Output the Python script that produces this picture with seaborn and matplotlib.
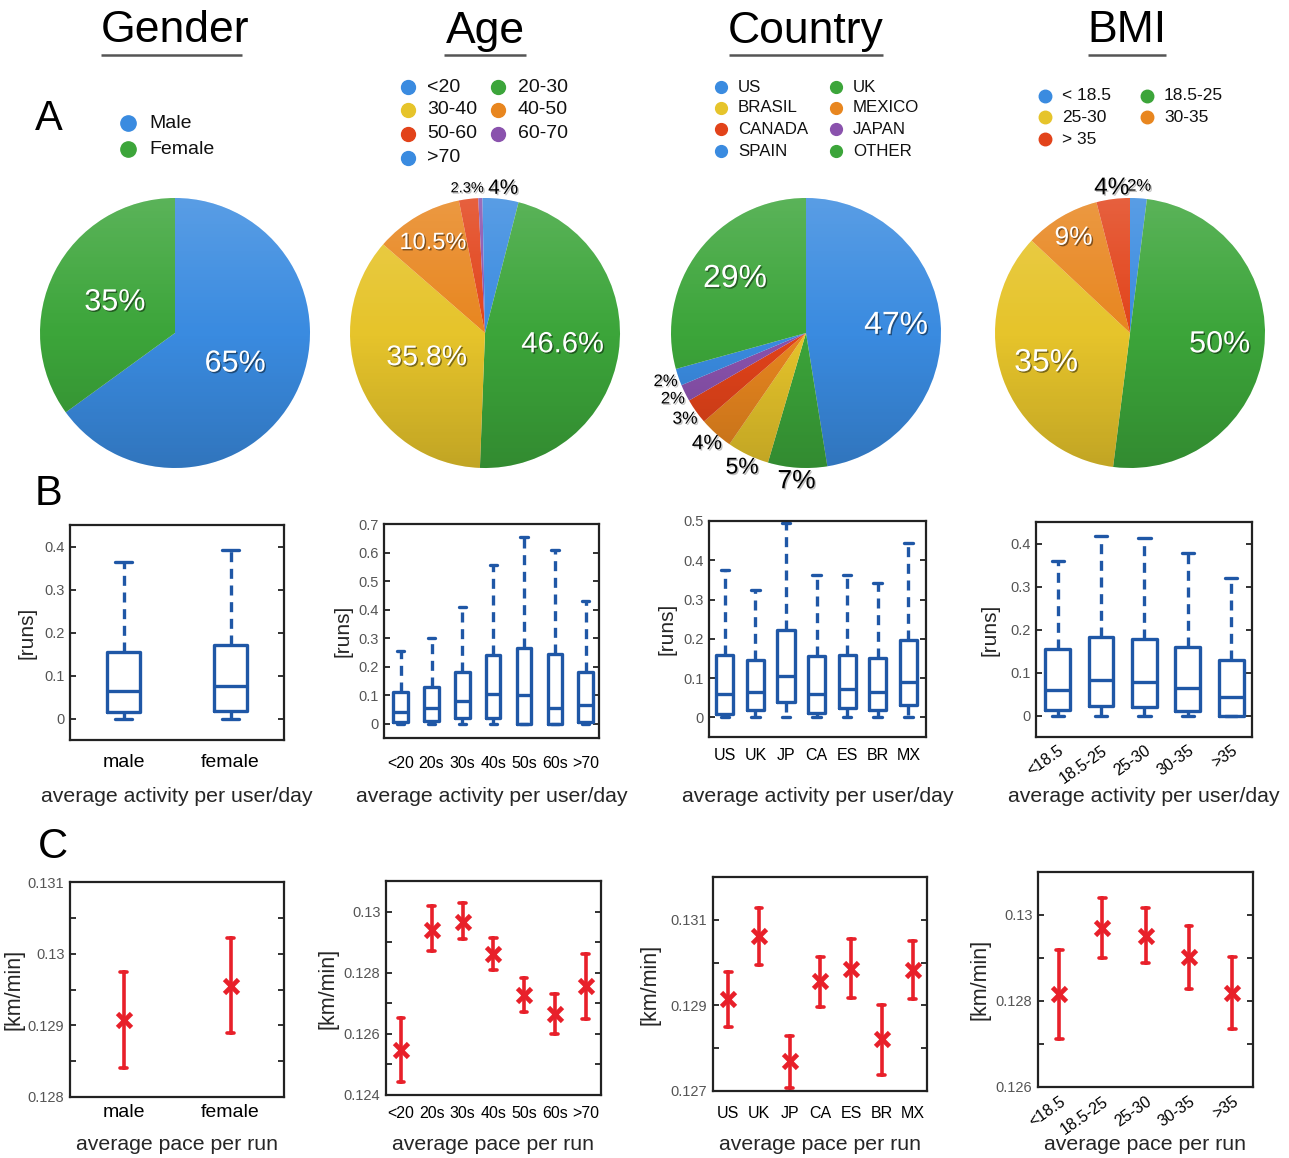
import numpy as np
import pandas as pd
import matplotlib
matplotlib.use("Agg")
import matplotlib.pyplot as plt
import matplotlib.patches as mpatches
import matplotlib.patheffects as pe
import seaborn as sns

# ---------------- data ----------------
gender_legend = ["Male", "Female"]
gender_pct = [65, 35]
age_legend = ["<20", "20-30", "30-40", "40-50", "50-60", "60-70", ">70"]
age_pct = [4, 46.6, 35.8, 10.5, 2.3, 0.5, 0.3]
country_legend = ["US", "UK", "BRASIL", "MEXICO", "CANADA", "JAPAN", "SPAIN", "OTHER"]
country_pct = [47, 7, 5, 4, 3, 2, 2, 29]
bmi_legend = ["< 18.5", "18.5-25", "25-30", "30-35", "> 35"]
bmi_pct = [2, 50, 35, 9, 4]

gender_cats = ["male", "female"]
age_cats = ["<20", "20s", "30s", "40s", "50s", "60s", ">70"]
country_cats = ["US", "UK", "JP", "CA", "ES", "BR", "MX"]
bmi_cats = ["<18.5", "18.5-25", "25-30", "30-35", ">35"]

# box plots: lower whisker, q1, median, q3, upper whisker  [runs]
gender_wlo = [0.0, 0.0]
gender_q1 = [0.015, 0.018]
gender_med = [0.065, 0.075]
gender_q3 = [0.155, 0.170]
gender_whi = [0.365, 0.393]

age_wlo = [0.0, 0.0, 0.0, 0.0, 0.0, 0.0, 0.0]
age_q1 = [0.005, 0.010, 0.020, 0.020, 0.0, 0.0, 0.005]
age_med = [0.040, 0.055, 0.080, 0.105, 0.100, 0.055, 0.065]
age_q3 = [0.110, 0.130, 0.180, 0.240, 0.265, 0.245, 0.180]
age_whi = [0.255, 0.300, 0.410, 0.555, 0.655, 0.610, 0.430]

country_wlo = [0.0, 0.0, 0.0, 0.0, 0.0, 0.0, 0.0]
country_q1 = [0.008, 0.018, 0.038, 0.010, 0.025, 0.018, 0.032]
country_med = [0.060, 0.065, 0.105, 0.060, 0.072, 0.065, 0.090]
country_q3 = [0.158, 0.145, 0.222, 0.155, 0.160, 0.152, 0.198]
country_whi = [0.375, 0.325, 0.495, 0.362, 0.362, 0.343, 0.443]

bmi_wlo = [0.0, 0.0, 0.0, 0.0, 0.0]
bmi_q1 = [0.012, 0.022, 0.020, 0.010, 0.0]
bmi_med = [0.060, 0.082, 0.078, 0.063, 0.043]
bmi_q3 = [0.155, 0.183, 0.178, 0.160, 0.128]
bmi_whi = [0.360, 0.418, 0.412, 0.378, 0.320]

# pace per run: mean and error-bar ends [km/min]
gender_pace = [0.12907, 0.12955]
gender_pace_lo = [0.12840, 0.12890]
gender_pace_hi = [0.12974, 0.13022]

age_pace = [0.12547, 0.12941, 0.12967, 0.12860, 0.12728, 0.12666, 0.12757]
age_pace_lo = [0.12441, 0.12870, 0.12911, 0.12810, 0.12671, 0.12601, 0.12650]
age_pace_hi = [0.12653, 0.13017, 0.13028, 0.12913, 0.12784, 0.12732, 0.12862]

country_pace = [0.12915, 0.13062, 0.12770, 0.12956, 0.12986, 0.12821, 0.12982]
country_pace_lo = [0.12849, 0.12994, 0.12708, 0.12896, 0.12917, 0.12737, 0.12915]
country_pace_hi = [0.12977, 0.13128, 0.12829, 0.13013, 0.13054, 0.12902, 0.13051]

bmi_pace = [0.12816, 0.12969, 0.12952, 0.12902, 0.12818]
bmi_pace_lo = [0.12711, 0.12899, 0.12888, 0.12829, 0.12734]
bmi_pace_hi = [0.12919, 0.13039, 0.13017, 0.12975, 0.12902]

# ---------------- style ----------------
sns.set_theme(style="white")
plt.rcParams["font.family"] = ["Liberation Sans", "DejaVu Sans"]

W, H = 1289, 1158
fig = plt.figure(figsize=(W / 100, H / 100), dpi=100)

BLUE = "#3a8be0"
GREEN = "#3ca53a"
YELLOW = "#e6c42b"
ORANGE = "#e8861f"
RED = "#e2431a"
PURPLE = "#8a52ad"
BOX = "#1f57a6"
ERR = "#e8202a"


def px_rect(left, top, right, bottom):
    return [left / W, 1 - bottom / H, (right - left) / W, (bottom - top) / H]


def pie_panel(cx, cy, r, values, colors, label_r, label_fs, label_col):
    ax = fig.add_axes(px_rect(cx - r, cy - r, cx + r, cy + r))
    wedges, _ = ax.pie(values, colors=colors, startangle=90, counterclock=False,
                       radius=1, wedgeprops=dict(linewidth=0))
    ax.set_xlim(-1, 1)
    ax.set_ylim(-1, 1)
    # soft top-light / bottom-dark shading
    g = np.linspace(1, -1, 256)[:, None]
    img = np.zeros((256, 1, 4))
    img[..., :3] = np.where(g > 0, 1.0, 0.0)[..., None] * np.ones(3)
    img[..., 3] = np.abs(g) * 0.16
    im = ax.imshow(img, extent=(-1, 1, -1, 1), aspect="auto", zorder=3)
    im.set_clip_path(mpatches.Circle((0, 0), 1, transform=ax.transData))
    for w, v, lr, fs, c in zip(wedges, values, label_r, label_fs, label_col):
        if lr is None:
            continue
        ang = np.deg2rad((w.theta1 + w.theta2) / 2)
        shadow = "#000000" if c == "white" else "#777777"
        ax.text(lr * np.cos(ang), lr * np.sin(ang), f"{v:g}%", ha="center", va="center",
                fontsize=fs, color=c, zorder=5,
                path_effects=[pe.withSimplePatchShadow(offset=(1, -1), shadow_rgbFace=shadow, alpha=0.45)])
    return ax


def style_axes(ax, ylim, major, minor, xfs, xpad, rot=0):
    ax.set_ylim(*ylim)
    ax.set_yticks(major)
    ax.set_yticklabels([f"{t:g}" for t in major])
    ax.set_yticks(minor, minor=True)
    ax.tick_params(axis="y", which="both", direction="in", left=True, right=True,
                   length=4, width=1.3, color="#222222", labelcolor="#555555",
                   labelsize=10.5, pad=4)
    ax.tick_params(axis="x", which="both", length=0, labelsize=xfs, labelcolor="black", pad=xpad)
    if rot:
        for lab in ax.get_xticklabels():
            lab.set_rotation(rot)
            lab.set_ha("right")
            lab.set_rotation_mode("anchor")
    for s in ax.spines.values():
        s.set_visible(True)
        s.set_color("#222222")
        s.set_linewidth(1.6)
    ax.grid(False)


def box_panel(rect, cats, wlo, q1, med, q3, whi, ylim, major, xlim, width, xfs, xpad,
              ylab_x, rot=0):
    ax = fig.add_axes(px_rect(*rect))
    df = pd.DataFrame({"cat": np.repeat(cats, 5),
                       "val": np.column_stack([wlo, q1, med, q3, whi]).ravel()})
    sns.boxplot(data=df, x="cat", y="val", order=cats, ax=ax, whis=np.inf, width=width,
                fill=False, color=BOX, linewidth=2.4,
                whiskerprops=dict(linestyle=(0, (3, 2)), color=BOX),
                capprops=dict(color=BOX), medianprops=dict(color=BOX),
                boxprops=dict(color=BOX))
    ax.set_xlim(*xlim)
    style_axes(ax, ylim, major, [], xfs, xpad, rot)
    ax.set_ylabel("[runs]", fontsize=15)
    ax.yaxis.label.set_va("center")
    ax.yaxis.set_label_coords(ylab_x, 0.5)
    ax.set_xlabel("average activity per user/day", fontsize=15.3)
    ax.xaxis.label.set_va("center")
    top, bot = rect[1], rect[3]
    ax.xaxis.set_label_coords(0.5, -(796 - bot) / (bot - top))
    return ax


def pace_panel(rect, cats, mean, lo, hi, ylim, major, minor, xlim, cap, xfs, xpad,
               ylab_x, rot=0):
    ax = fig.add_axes(px_rect(*rect))
    df = pd.DataFrame({"cat": np.repeat(cats, 3),
                       "val": np.column_stack([lo, mean, hi]).ravel()})
    sns.pointplot(data=df, x="cat", y="val", order=cats, ax=ax, estimator="median",
                  errorbar=("pi", 100), linestyle="none", marker="x", markersize=9.5,
                  markeredgewidth=3.4, color=ERR, capsize=cap,
                  err_kws=dict(linewidth=2.6))
    ax.set_xlim(*xlim)
    style_axes(ax, ylim, major, minor, xfs, xpad, rot)
    ax.set_ylabel("[km/min]", fontsize=15.5)
    ax.yaxis.label.set_va("center")
    ax.yaxis.set_label_coords(ylab_x, 0.5)
    ax.set_xlabel("average pace per run", fontsize=15.3)
    ax.xaxis.label.set_va("center")
    top, bot = rect[1], rect[3]
    ax.xaxis.set_label_coords(0.5, -(1145 - bot) / (bot - top))
    return ax


# ---------------- row A: pies ----------------
pie_panel(175, 333, 135, gender_pct, [BLUE, GREEN],
          [0.5, 0.5], [22, 22], ["white", "white"])
pie_panel(485, 333, 135, age_pct, [BLUE, GREEN, YELLOW, ORANGE, RED, PURPLE, BLUE],
          [1.08, 0.58, 0.47, 0.77, 1.08, None, None],
          [15, 21, 20.5, 17, 10.5, 10, 10],
          ["black", "white", "white", "white", "black", "black", "black"])
pie_panel(806, 333, 135, country_pct,
          [BLUE, GREEN, YELLOW, ORANGE, RED, PURPLE, BLUE, GREEN],
          [0.67, 1.1, 1.1, 1.1, 1.1, 1.1, 1.1, 0.66],
          [23, 19, 16.5, 15, 12.5, 12, 12, 23],
          ["white", "black", "black", "black", "black", "black", "black", "white"])
pie_panel(1130, 333, 135, bmi_pct, [BLUE, GREEN, YELLOW, ORANGE, RED],
          [1.09, 0.67, 0.66, 0.82, 1.08],
          [12, 22, 23, 19, 17.5],
          ["black", "white", "white", "white", "black"])

# ---------------- row B: box plots ----------------
box_panel((70, 525, 284, 740), gender_cats, gender_wlo, gender_q1, gender_med, gender_q3,
          gender_whi, (-0.05, 0.45), [0, 0.1, 0.2, 0.3, 0.4], (-0.5, 1.5), 0.3, 14, 10, -0.2)
box_panel((384, 524, 599, 738), age_cats, age_wlo, age_q1, age_med, age_q3, age_whi,
          (-0.05, 0.7), [0, 0.1, 0.2, 0.3, 0.4, 0.5, 0.6, 0.7], (-0.54, 6.43), 0.47, 11.5, 13, -0.19)
box_panel((709, 521, 926, 737), country_cats, country_wlo, country_q1, country_med,
          country_q3, country_whi, (-0.05, 0.5), [0, 0.1, 0.2, 0.3, 0.4, 0.5],
          (-0.52, 6.58), 0.56, 11.5, 8, -0.195)
box_panel((1036, 522, 1252, 737), bmi_cats, bmi_wlo, bmi_q1, bmi_med, bmi_q3, bmi_whi,
          (-0.05, 0.45), [0, 0.1, 0.2, 0.3, 0.4], (-0.5, 4.48), 0.57, 11.5, 4, -0.215, rot=35)

# ---------------- row C: pace ----------------
pace_panel((70, 882, 284, 1097), gender_cats, gender_pace, gender_pace_lo, gender_pace_hi,
           (0.128, 0.131), [0.128, 0.129, 0.130, 0.131], [0.1285, 0.1295, 0.1305],
           (-0.5, 1.5), 0.06, 14, 5, -0.26)
pace_panel((386, 881, 601, 1095), age_cats, age_pace, age_pace_lo, age_pace_hi,
           (0.124, 0.131), [0.124, 0.126, 0.128, 0.130], [0.125, 0.127, 0.129],
           (-0.49, 6.5), 0.22, 11.5, 8, -0.27)
pace_panel((713, 877, 927, 1091), country_cats, country_pace, country_pace_lo, country_pace_hi,
           (0.127, 0.132), [0.127, 0.129, 0.131], [0.128, 0.130],
           (-0.5, 6.47), 0.22, 11.5, 11, -0.295)
pace_panel((1038, 872, 1253, 1087), bmi_cats, bmi_pace, bmi_pace_lo, bmi_pace_hi,
           (0.126, 0.131), [0.126, 0.128, 0.130], [0.127, 0.129],
           (-0.49, 4.48), 0.16, 11.5, 5, -0.27, rot=35)

# ---------------- overlay: titles, legends, panel letters ----------------
ov = fig.add_axes([0, 0, 1, 1])
ov.set_xlim(0, W)
ov.set_ylim(H, 0)
ov.axis("off")
ov.patch.set_alpha(0)

for x, t, (u0, u1) in [(175, "Gender", (101, 242)), (485, "Age", (444, 526)),
                       (806, "Country", (729, 883)), (1127, "BMI", (1088, 1166))]:
    ov.text(x, 31, t, fontsize=32, ha="center", va="center", color="black")
    ov.plot([u0, u1], [55, 55], color="#555555", lw=1.8, solid_capstyle="butt")

for x, y, t in [(49, 119, "A"), (48, 494, "B"), (53, 847, "C")]:
    ov.text(x, y, t, fontsize=30, ha="center", va="center", color="black")


def legend_block(items, colors, xs_marker, xs_text, ys, ms, fs):
    for i, (lab, col) in enumerate(zip(items, colors)):
        row, c = divmod(i, len(xs_marker))
        ov.plot(xs_marker[c], ys[row], "o", ms=ms, color=col, mec=col)
        ov.text(xs_text[c], ys[row], lab, fontsize=fs, ha="left", va="center", color="#111111")


legend_block(gender_legend, [BLUE, GREEN], [128], [149], [123, 149], 11, 14)
legend_block(age_legend, [BLUE, GREEN, YELLOW, ORANGE, RED, PURPLE, BLUE],
             [408, 498], [427, 518], [87, 110, 134, 158], 10, 14)
legend_block(country_legend, [BLUE, GREEN, YELLOW, ORANGE, RED, PURPLE, BLUE, GREEN],
             [721, 836], [738, 853], [87, 108, 129, 151], 8.5, 12.2)
legend_block(bmi_legend, [BLUE, GREEN, YELLOW, ORANGE, RED],
             [1045, 1147], [1062, 1164], [96, 117, 139], 9, 12.5)

fig.savefig("out.png", dpi=100)
